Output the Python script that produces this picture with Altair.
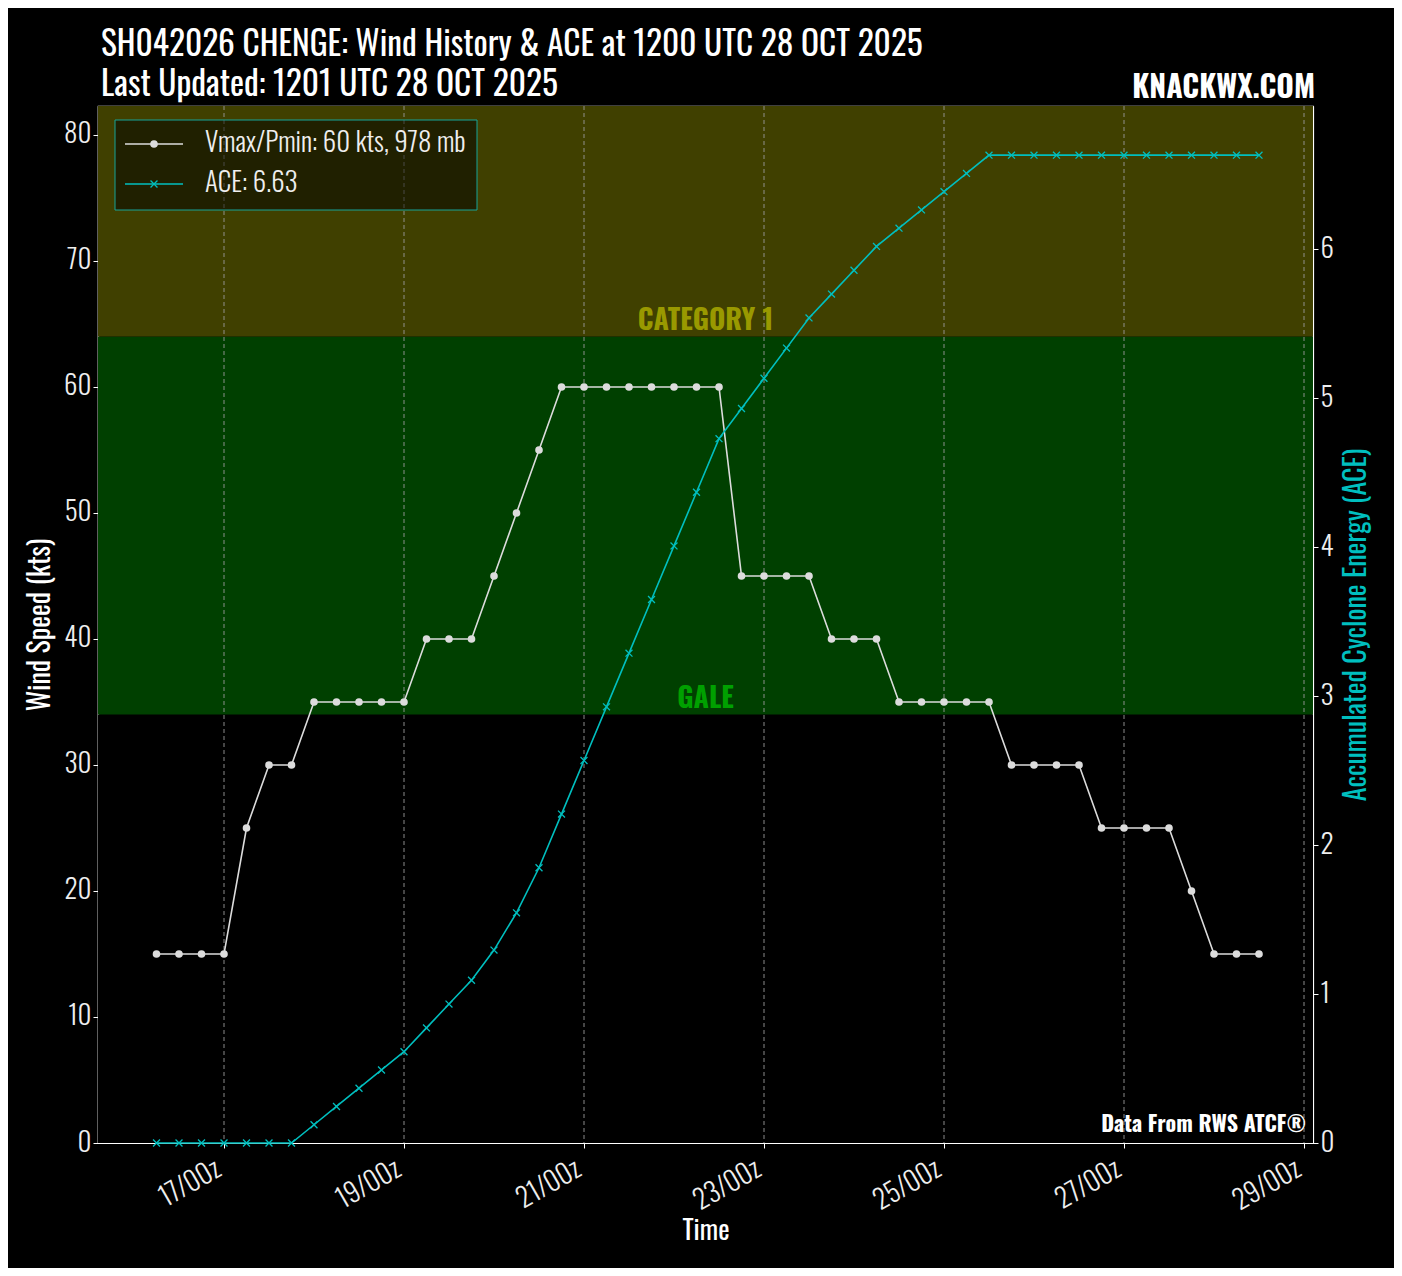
import altair as alt
import pandas as pd

# ---------------- data ----------------
times = [t.strftime("%Y-%m-%dT%H:%M:%SZ")
         for t in pd.date_range("2025-10-16 06:00", periods=50, freq="6h")]
wind = [15, 15, 15, 15, 25, 30, 30, 35, 35, 35, 35, 35, 40, 40, 40, 45, 50, 55,
        60, 60, 60, 60, 60, 60, 60, 60, 45, 45, 45, 45, 40, 40, 40, 35, 35, 35,
        35, 35, 30, 30, 30, 30, 25, 25, 25, 25, 20, 15, 15, 15]
ace = [0, 0, 0, 0, 0, 0, 0, 0.1225, 0.245, 0.3675, 0.49, 0.6125, 0.7725, 0.9325,
       1.0925, 1.295, 1.545, 1.8475, 2.2075, 2.5675, 2.9275, 3.2875, 3.6475,
       4.0075, 4.3675, 4.7275, 4.93, 5.1325, 5.335, 5.5375, 5.6975, 5.8575,
       6.0175, 6.14, 6.2625, 6.385, 6.5075, 6.63, 6.63, 6.63, 6.63, 6.63, 6.63,
       6.63, 6.63, 6.63, 6.63, 6.63, 6.63, 6.63]
band_lo = [0, 34, 64]
band_hi = [34, 64, 82.3]
band_color = ["#000000", "#004000", "#404000"]
grid_days = [17, 19, 21, 23, 25, 27, 29]
wind_ticks = [0, 10, 20, 30, 40, 50, 60, 70, 80]
ace_ticks = [0, 1, 2, 3, 4, 5, 6]

W, H = 1215, 1037
FONT = "Oswald, Roboto Condensed, Liberation Sans Narrow, Roboto, sans-serif"
WIND_C = "#dcdcdc"
ACE_C = "#00bfbf"
XSHAPE = "M-1,-1L1,1M1,-1L-1,1"

df = pd.DataFrame({"time": times, "wind": wind, "ace": ace})
bands = pd.DataFrame({"lo": band_lo, "hi": band_hi, "color": band_color})
grid = pd.DataFrame({"time": [f"2025-10-{d:02d}T00:00:00Z" for d in grid_days]})
one = pd.DataFrame({"a": [0]})

xscale = alt.Scale(
    type="utc",
    domain=[alt.DateTime(year=2025, month=10, date=15, hours=14, minutes=24, utc=True),
            alt.DateTime(year=2025, month=10, date=29, hours=2, minutes=24, utc=True)],
)
xaxis = alt.Axis(
    values=[alt.DateTime(year=2025, month=10, date=d, utc=True) for d in grid_days],
    labelExpr="utcFormat(datum.value, '%d/%Hz')",
    labelAngle=-30, labelAlign="right", labelBaseline="top",
    grid=False, title="Time", titlePadding=4, labelPadding=8, labelOffset=-12,
)
xenc = alt.X("time:T", scale=xscale, axis=xaxis)
wscale = alt.Scale(domain=[0, 82.3], nice=False, zero=False)
wind_axis = alt.Axis(values=wind_ticks, grid=False, title="Wind Speed (kts)",
                     titlePadding=8, titleFontSize=28)

band = alt.Chart(bands).mark_rect().encode(
    x=alt.value(0), x2=alt.value(W),
    y=alt.Y("lo:Q", scale=wscale, axis=wind_axis), y2="hi:Q",
    color=alt.Color("color:N", scale=None),
)
rules = alt.Chart(grid).mark_rule(color="#9a9a9a", strokeDash=[4, 3],
                                  strokeWidth=0.9).encode(x=xenc)
wline = alt.Chart(df).mark_line(color=WIND_C, strokeWidth=1.6).encode(
    x=xenc, y=alt.Y("wind:Q", scale=wscale, axis=wind_axis))
wpts = alt.Chart(df).mark_point(shape="circle", filled=True, color=WIND_C,
                                size=58, opacity=1).encode(
    x=xenc, y=alt.Y("wind:Q", scale=wscale, axis=wind_axis))
cat1 = alt.Chart(one).mark_text(text="CATEGORY 1", color="#999900", fontSize=28,
                                fontWeight="bold", font=FONT, baseline="bottom",
                                dy=-1).encode(x=alt.value(W / 2), y=alt.datum(64))
gale = alt.Chart(one).mark_text(text="GALE", color="#00a000", fontSize=28,
                                fontWeight="bold", font=FONT, baseline="bottom",
                                dy=-1).encode(x=alt.value(W / 2), y=alt.datum(34))
layer_wind = alt.layer(band, rules, cat1, gale, wline, wpts)

ascale = alt.Scale(domain=[0, 6.96], nice=False)
ace_axis = alt.Axis(orient="right", values=ace_ticks, grid=False,
                    title="Accumulated Cyclone Energy (ACE)", titleColor=ACE_C,
                    titleAngle=270, titleBaseline="top", titlePadding=10,
                    titleFontSize=28)
aline = alt.Chart(df).mark_line(color=ACE_C, strokeWidth=1.6).encode(
    x=xenc, y=alt.Y("ace:Q", scale=ascale, axis=ace_axis))
apts = alt.Chart(df).mark_point(shape=XSHAPE, filled=False,
                                color=ACE_C, size=48, strokeWidth=1.3,
                                opacity=1).encode(
    x=xenc, y=alt.Y("ace:Q", scale=ascale, axis=ace_axis))
layer_ace = alt.layer(aline, apts)

# legend (manual)
leg_box = alt.Chart(one).mark_rect(fill="black", fillOpacity=0.5, stroke="#17a398",
                                   strokeWidth=1).encode(
    x=alt.value(17), x2=alt.value(379), y=alt.value(14), y2=alt.value(104))
leg_l1 = alt.Chart(one).mark_rule(color=WIND_C, strokeWidth=1.6).encode(
    x=alt.value(27), x2=alt.value(85), y=alt.value(38))
leg_p1 = alt.Chart(one).mark_point(shape="circle", filled=True, color=WIND_C,
                                   size=58, opacity=1).encode(
    x=alt.value(56), y=alt.value(38))
leg_t1 = alt.Chart(one).mark_text(text="Vmax/Pmin: 60 kts, 978 mb", color="#eeeeee",
                                  fontSize=27, fontWeight=300, font=FONT,
                                  align="left", baseline="middle").encode(
    x=alt.value(107), y=alt.value(38))
leg_l2 = alt.Chart(one).mark_rule(color=ACE_C, strokeWidth=1.6).encode(
    x=alt.value(27), x2=alt.value(85), y=alt.value(78))
leg_p2 = alt.Chart(one).mark_point(shape=XSHAPE, filled=False,
                                   color=ACE_C, size=48, strokeWidth=1.3,
                                   opacity=1).encode(
    x=alt.value(56), y=alt.value(78))
leg_t2 = alt.Chart(one).mark_text(text="ACE: 6.63", color="#eeeeee", fontSize=27,
                                  fontWeight=300, font=FONT, align="left",
                                  baseline="middle").encode(
    x=alt.value(107), y=alt.value(78))

title1 = alt.Chart(one).mark_text(
    text="SH042026 CHENGE: Wind History & ACE at 1200 UTC 28 OCT 2025",
    color="white", fontSize=33.4, font=FONT, align="left",
    baseline="alphabetic").encode(x=alt.value(3), y=alt.value(-50))
title2 = alt.Chart(one).mark_text(
    text="Last Updated: 1201 UTC 28 OCT 2025",
    color="white", fontSize=33.4, font=FONT, align="left",
    baseline="alphabetic").encode(x=alt.value(3), y=alt.value(-10))
brand = alt.Chart(one).mark_text(
    text="KNACKWX.COM", color="white", fontSize=30, fontWeight="bold", font=FONT,
    align="right", baseline="alphabetic").encode(x=alt.value(W + 2), y=alt.value(-8))
source = alt.Chart(one).mark_text(
    text="Data From RWS ATCF®", color="white", fontSize=22, fontWeight="bold",
    font=FONT, align="right", baseline="alphabetic").encode(
    x=alt.value(W - 7), y=alt.value(H - 11))

chart = alt.layer(
    layer_wind, layer_ace, leg_box, leg_l1, leg_p1, leg_t1, leg_l2, leg_p2, leg_t2,
    title1, title2, brand, source,
).resolve_scale(y="independent").properties(
    width=W, height=H,
    autosize=alt.AutoSizeParams(type="none"),
    padding={"left": 90, "top": 98, "right": 81, "bottom": 125},
    background="black",
).configure_view(
    stroke="white", strokeWidth=1.2,
).configure_axis(
    labelColor="#eeeeee", labelFont=FONT, labelFontSize=27, labelFontWeight=300,
    tickColor="white", domainColor="white", tickSize=5, domainWidth=1.2,
    titleColor="white", titleFont=FONT, titleFontSize=27, titleFontWeight="normal",
)

chart.save("out.html", embed_options={"renderer": "svg", "actions": False})
